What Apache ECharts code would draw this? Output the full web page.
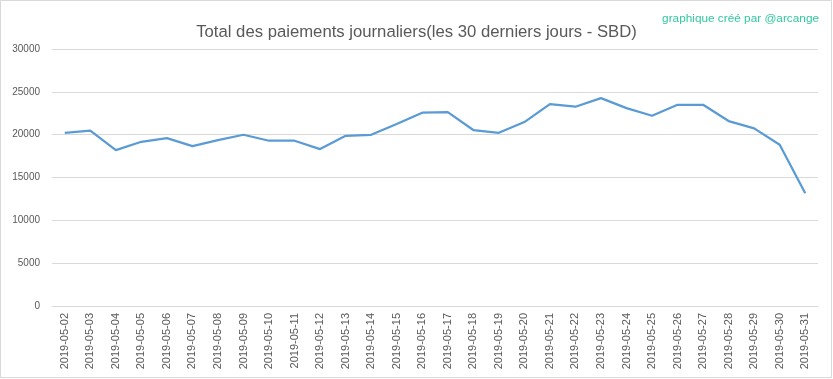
<!DOCTYPE html>
<html><head><meta charset="utf-8">
<script src="https://cdn.jsdelivr.net/npm/echarts@6/dist/echarts.min.js"></script>
<style>html,body{margin:0;padding:0;background:#fff}#c{width:833px;height:379px}</style>
</head><body><div id="c"></div>
<script>
const categories = ["2019-05-02","2019-05-03","2019-05-04","2019-05-05","2019-05-06","2019-05-07","2019-05-08","2019-05-09","2019-05-10","2019-05-11","2019-05-12","2019-05-13","2019-05-14","2019-05-15","2019-05-16","2019-05-17","2019-05-18","2019-05-19","2019-05-20","2019-05-21","2019-05-22","2019-05-23","2019-05-24","2019-05-25","2019-05-26","2019-05-27","2019-05-28","2019-05-29","2019-05-30","2019-05-31"];
const payments = [20220,20460,18200,19170,19600,18670,19370,19990,19290,19290,18320,19870,19990,21240,22560,22640,20540,20220,21470,23570,23260,24270,23100,22210,23490,23490,21590,20730,18830,13150];
const titleText = "Total des paiements journaliers(les 30 derniers jours - SBD)";
const creditText = "graphique créé par @arcange";

const chart = echarts.init(document.getElementById('c'), null, {renderer:'canvas'});
chart.setOption({
  animation:false,
  backgroundColor:'#ffffff',
  title:[
    {text:titleText,left:'center',top:19,textStyle:{fontFamily:'Liberation Sans',fontSize:16.7,fontWeight:'normal',color:'#595959'}},
    {text:creditText,right:9,top:8,textStyle:{fontFamily:'Liberation Sans',fontSize:11.8,fontWeight:'normal',color:'#30C8A0'}}
  ],
  graphic:[{type:'rect',shape:{x:0.5,y:0.5,width:831,height:377},style:{fill:'none',stroke:'#d9d9d9',lineWidth:1},silent:true}],
  grid:{left:52,right:15,top:49,bottom:73,containLabel:false},
  xAxis:{type:'category',data:categories,boundaryGap:true,
    axisLine:{lineStyle:{color:'#d9d9d9'}},axisTick:{show:false},
    axisLabel:{rotate:90,interval:0,margin:7,fontFamily:'Liberation Sans',fontSize:11,color:'#595959'}},
  yAxis:{type:'value',min:0,max:30000,interval:5000,
    axisLine:{show:false},axisTick:{show:false},
    splitLine:{lineStyle:{color:'#d9d9d9'}},
    axisLabel:{margin:12,fontFamily:'Liberation Sans',fontSize:10,color:'#595959',formatter:function(v){return String(v);}}},
  series:[{type:'line',data:payments,symbol:'none',lineStyle:{color:'#5B9BD5',width:2.25},itemStyle:{color:'#5B9BD5'}}]
});
</script></body></html>
